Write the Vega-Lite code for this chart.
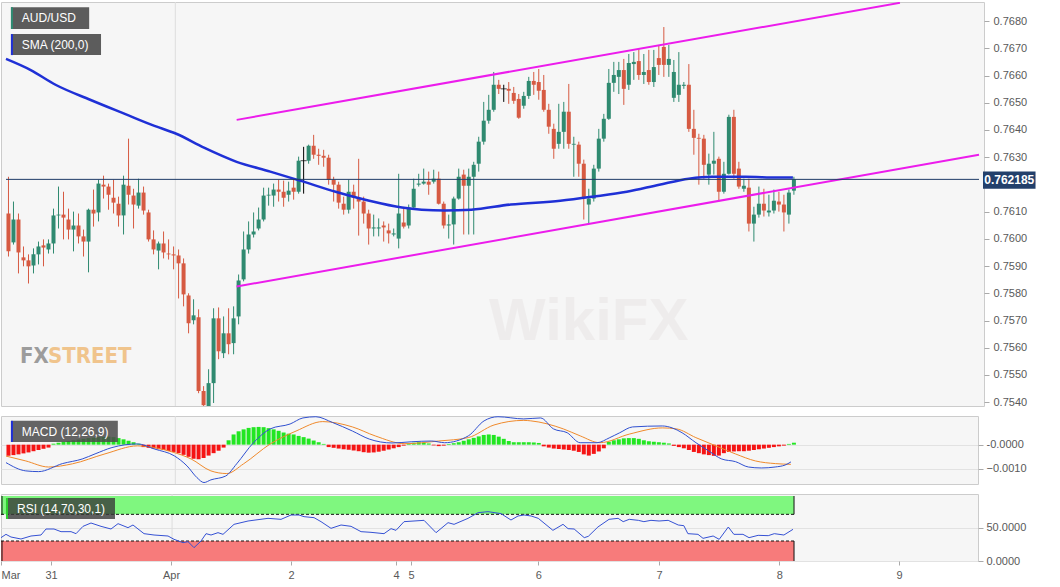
{
  "$schema": "https://vega.github.io/schema/vega-lite/v6.json",
  "padding": {"left": 0, "top": 1, "right": 0, "bottom": 0},
  "background": "#ffffff",
  "bounds": "flush",
  "spacing": 10,
  "config": {
    "view": {"fill": "#f6f6f6", "stroke": "#cccccc"},
    "axis": {"labelFont": "Liberation Sans", "labelFontSize": 11, "labelColor": "#595959", "tickColor": "#aaaaaa", "tickSize": 5, "domain": false, "gridColor": "#e2e2e2", "title": null, "labelPadding": 3, "labelOverlap": false}
  },
  "datasets": {
    "candles": [
      {"i":0,"o":0.76093,"h":0.76228,"l":0.75935,"c":0.75954,"m":-0.00046},
      {"i":1,"o":0.75987,"h":0.76137,"l":0.75979,"c":0.76071,"m":-0.00043},
      {"i":2,"o":0.76071,"h":0.76093,"l":0.75873,"c":0.7595,"m":-0.0004},
      {"i":3,"o":0.75932,"h":0.75972,"l":0.75899,"c":0.75921,"m":-0.00036},
      {"i":4,"o":0.75921,"h":0.75943,"l":0.75836,"c":0.75899,"m":-0.00032},
      {"i":5,"o":0.75902,"h":0.75965,"l":0.75873,"c":0.75943,"m":-0.00027},
      {"i":6,"o":0.75943,"h":0.7599,"l":0.75906,"c":0.75972,"m":-0.00022},
      {"i":7,"o":0.75976,"h":0.75998,"l":0.75899,"c":0.75968,"m":-0.00017},
      {"i":8,"o":0.75961,"h":0.75998,"l":0.75946,"c":0.75983,"m":-0.00012},
      {"i":9,"o":0.75983,"h":0.76111,"l":0.75946,"c":0.76086,"m":0.00004},
      {"i":10,"o":0.76086,"h":0.76192,"l":0.76038,"c":0.76089,"m":0.00008},
      {"i":11,"o":0.76089,"h":0.76173,"l":0.75998,"c":0.76078,"m":0.00012},
      {"i":12,"o":0.76071,"h":0.76111,"l":0.75998,"c":0.76034,"m":0.00015},
      {"i":13,"o":0.76034,"h":0.761,"l":0.75954,"c":0.76049,"m":0.00018},
      {"i":14,"o":0.76049,"h":0.76093,"l":0.75983,"c":0.76009,"m":0.00021},
      {"i":15,"o":0.76009,"h":0.76034,"l":0.75935,"c":0.7599,"m":0.00024},
      {"i":16,"o":0.7599,"h":0.76111,"l":0.75877,"c":0.76107,"m":0.00027},
      {"i":17,"o":0.76107,"h":0.76181,"l":0.76045,"c":0.76093,"m":0.00029},
      {"i":18,"o":0.76097,"h":0.76217,"l":0.76064,"c":0.76203,"m":0.00031},
      {"i":19,"o":0.76199,"h":0.76232,"l":0.76148,"c":0.76192,"m":0.00032},
      {"i":20,"o":0.76192,"h":0.76203,"l":0.76107,"c":0.76162,"m":0.00033},
      {"i":21,"o":0.76151,"h":0.76217,"l":0.76093,"c":0.76133,"m":0.00031},
      {"i":22,"o":0.76129,"h":0.76155,"l":0.76045,"c":0.76086,"m":0.00027},
      {"i":23,"o":0.76086,"h":0.76232,"l":0.76016,"c":0.76199,"m":0.00022},
      {"i":24,"o":0.76195,"h":0.76368,"l":0.76126,"c":0.76162,"m":0.00016},
      {"i":25,"o":0.76159,"h":0.76184,"l":0.76038,"c":0.76126,"m":0.0001},
      {"i":26,"o":0.76122,"h":0.76221,"l":0.76111,"c":0.7617,"m":0.00004},
      {"i":27,"o":0.7617,"h":0.76192,"l":0.76089,"c":0.76104,"m":-0.0001},
      {"i":28,"o":0.76097,"h":0.76107,"l":0.7599,"c":0.75998,"m":-0.00013},
      {"i":29,"o":0.75998,"h":0.76031,"l":0.75943,"c":0.75961,"m":-0.00016},
      {"i":30,"o":0.75957,"h":0.7599,"l":0.75888,"c":0.75983,"m":-0.00019},
      {"i":31,"o":0.75983,"h":0.76027,"l":0.75928,"c":0.7595,"m":-0.00022},
      {"i":32,"o":0.75946,"h":0.75998,"l":0.75924,"c":0.75943,"m":-0.00026},
      {"i":33,"o":0.75943,"h":0.75972,"l":0.75888,"c":0.75939,"m":-0.0003},
      {"i":34,"o":0.75939,"h":0.75961,"l":0.75781,"c":0.7591,"m":-0.00035},
      {"i":35,"o":0.7591,"h":0.75928,"l":0.75752,"c":0.75796,"m":-0.00042},
      {"i":36,"o":0.75792,"h":0.758,"l":0.75653,"c":0.7569,"m":-0.0005},
      {"i":37,"o":0.75701,"h":0.75778,"l":0.75686,"c":0.75719,"m":-0.00058},
      {"i":38,"o":0.75712,"h":0.75741,"l":0.75433,"c":0.75441,"m":-0.0006},
      {"i":39,"o":0.75441,"h":0.75459,"l":0.75367,"c":0.75389,"m":-0.00055},
      {"i":40,"o":0.75386,"h":0.75521,"l":0.75367,"c":0.7547,"m":-0.00045},
      {"i":41,"o":0.7547,"h":0.75745,"l":0.75397,"c":0.75708,"m":-0.00035},
      {"i":42,"o":0.75708,"h":0.75748,"l":0.75558,"c":0.75587,"m":-0.00025},
      {"i":43,"o":0.7558,"h":0.75715,"l":0.75562,"c":0.75653,"m":-0.00012},
      {"i":44,"o":0.75653,"h":0.75745,"l":0.75576,"c":0.75613,"m":0.00018},
      {"i":45,"o":0.75617,"h":0.75752,"l":0.75576,"c":0.75708,"m":0.00042},
      {"i":46,"o":0.75715,"h":0.75869,"l":0.75686,"c":0.75847,"m":0.00055},
      {"i":47,"o":0.75851,"h":0.76027,"l":0.75844,"c":0.75961,"m":0.00063},
      {"i":48,"o":0.75961,"h":0.76064,"l":0.75946,"c":0.76016,"m":0.00069},
      {"i":49,"o":0.76016,"h":0.76097,"l":0.76005,"c":0.76027,"m":0.00072},
      {"i":50,"o":0.76038,"h":0.76115,"l":0.76031,"c":0.76071,"m":0.00073},
      {"i":51,"o":0.76071,"h":0.76188,"l":0.76064,"c":0.76159,"m":0.00072},
      {"i":52,"o":0.76159,"h":0.76188,"l":0.76122,"c":0.76162,"m":0.00068},
      {"i":53,"o":0.76159,"h":0.76203,"l":0.76118,"c":0.76181,"m":0.00063},
      {"i":54,"o":0.76181,"h":0.76217,"l":0.76137,"c":0.76173,"m":0.00057},
      {"i":55,"o":0.76173,"h":0.76214,"l":0.76118,"c":0.76151,"m":0.0005},
      {"i":56,"o":0.76162,"h":0.7621,"l":0.76137,"c":0.76177,"m":0.00045},
      {"i":57,"o":0.76188,"h":0.76221,"l":0.76144,"c":0.76173,"m":0.00042},
      {"i":58,"o":0.76173,"h":0.76302,"l":0.76166,"c":0.76287,"m":0.00036},
      {"i":59,"o":0.76287,"h":0.76338,"l":0.76166,"c":0.76287,"m":0.00031},
      {"i":60,"o":0.76287,"h":0.76346,"l":0.76276,"c":0.76342,"m":0.00025},
      {"i":61,"o":0.76342,"h":0.76382,"l":0.76294,"c":0.76309,"m":0.00017},
      {"i":62,"o":0.76309,"h":0.76331,"l":0.76272,"c":0.76305,"m":0.0001},
      {"i":63,"o":0.76305,"h":0.76327,"l":0.76265,"c":0.76298,"m":0.00003},
      {"i":64,"o":0.76298,"h":0.76309,"l":0.76199,"c":0.76217,"m":-0.0001},
      {"i":65,"o":0.76217,"h":0.76228,"l":0.76137,"c":0.76199,"m":-0.00013},
      {"i":66,"o":0.76199,"h":0.7621,"l":0.76111,"c":0.76133,"m":-0.00016},
      {"i":67,"o":0.76129,"h":0.76155,"l":0.76089,"c":0.76107,"m":-0.00019},
      {"i":68,"o":0.76107,"h":0.76217,"l":0.76093,"c":0.76173,"m":-0.00021},
      {"i":69,"o":0.76173,"h":0.76199,"l":0.76111,"c":0.76151,"m":-0.00024},
      {"i":70,"o":0.76151,"h":0.76294,"l":0.76012,"c":0.76137,"m":-0.00027},
      {"i":71,"o":0.76137,"h":0.76155,"l":0.76056,"c":0.76093,"m":-0.00031},
      {"i":72,"o":0.76093,"h":0.76107,"l":0.75979,"c":0.76038,"m":-0.00033},
      {"i":73,"o":0.76038,"h":0.76089,"l":0.76009,"c":0.76042,"m":-0.00032},
      {"i":74,"o":0.76038,"h":0.76075,"l":0.76009,"c":0.76042,"m":-0.00029},
      {"i":75,"o":0.76049,"h":0.76064,"l":0.7599,"c":0.76042,"m":-0.00025},
      {"i":76,"o":0.76031,"h":0.76056,"l":0.75983,"c":0.7602,"m":-0.0002},
      {"i":77,"o":0.76016,"h":0.76038,"l":0.76009,"c":0.7602,"m":-0.00015},
      {"i":78,"o":0.76001,"h":0.76239,"l":0.75965,"c":0.76093,"m":-0.0001},
      {"i":79,"o":0.7606,"h":0.76111,"l":0.76038,"c":0.76045,"m":-0.00004},
      {"i":80,"o":0.76049,"h":0.76126,"l":0.76038,"c":0.76115,"m":0.00005},
      {"i":81,"o":0.76115,"h":0.76221,"l":0.76107,"c":0.76184,"m":0.00008},
      {"i":82,"o":0.76199,"h":0.76239,"l":0.76192,"c":0.76203,"m":0.0001},
      {"i":83,"o":0.76203,"h":0.76258,"l":0.76199,"c":0.7621,"m":0.00008},
      {"i":84,"o":0.7621,"h":0.76247,"l":0.76162,"c":0.76199,"m":0.00005},
      {"i":85,"o":0.7621,"h":0.76254,"l":0.76203,"c":0.76221,"m":-0.00003},
      {"i":86,"o":0.76221,"h":0.76247,"l":0.76126,"c":0.76129,"m":-0.00006},
      {"i":87,"o":0.76129,"h":0.76137,"l":0.76038,"c":0.76049,"m":-0.00004},
      {"i":88,"o":0.76049,"h":0.76089,"l":0.76001,"c":0.76053,"m":0.00003},
      {"i":89,"o":0.76053,"h":0.76155,"l":0.75979,"c":0.76148,"m":0.00006},
      {"i":90,"o":0.76148,"h":0.76258,"l":0.76144,"c":0.76228,"m":0.0001},
      {"i":91,"o":0.76236,"h":0.76254,"l":0.76016,"c":0.76195,"m":0.00016},
      {"i":92,"o":0.76195,"h":0.76258,"l":0.76016,"c":0.76228,"m":0.00022},
      {"i":93,"o":0.76228,"h":0.76283,"l":0.76016,"c":0.76272,"m":0.00028},
      {"i":94,"o":0.76276,"h":0.76375,"l":0.76247,"c":0.76357,"m":0.00034},
      {"i":95,"o":0.76357,"h":0.76503,"l":0.76346,"c":0.76434,"m":0.0004},
      {"i":96,"o":0.76434,"h":0.76529,"l":0.76423,"c":0.76474,"m":0.00042},
      {"i":97,"o":0.76474,"h":0.76613,"l":0.76467,"c":0.76566,"m":0.0004},
      {"i":98,"o":0.76566,"h":0.76584,"l":0.76532,"c":0.76551,"m":0.00033},
      {"i":99,"o":0.76551,"h":0.76566,"l":0.76503,"c":0.76551,"m":0.00024},
      {"i":100,"o":0.76551,"h":0.76576,"l":0.76496,"c":0.76544,"m":0.00015},
      {"i":101,"o":0.76536,"h":0.76558,"l":0.76496,"c":0.76507,"m":0.0001},
      {"i":102,"o":0.76514,"h":0.76532,"l":0.76441,"c":0.76445,"m":0.0001},
      {"i":103,"o":0.76489,"h":0.7654,"l":0.76478,"c":0.76525,"m":0.0001},
      {"i":104,"o":0.76525,"h":0.76595,"l":0.76514,"c":0.7658,"m":0.0001},
      {"i":105,"o":0.7658,"h":0.76613,"l":0.76529,"c":0.76566,"m":0.00009},
      {"i":106,"o":0.76576,"h":0.76624,"l":0.76511,"c":0.76544,"m":0.00007},
      {"i":107,"o":0.76547,"h":0.76602,"l":0.76467,"c":0.76474,"m":-0.00007},
      {"i":108,"o":0.76474,"h":0.76496,"l":0.76386,"c":0.76412,"m":-0.00012},
      {"i":109,"o":0.76404,"h":0.76423,"l":0.76294,"c":0.76331,"m":-0.00016},
      {"i":110,"o":0.76349,"h":0.76496,"l":0.76331,"c":0.76393,"m":-0.00018},
      {"i":111,"o":0.76393,"h":0.76503,"l":0.76331,"c":0.76467,"m":-0.0002},
      {"i":112,"o":0.76467,"h":0.76569,"l":0.76331,"c":0.76349,"m":-0.00022},
      {"i":113,"o":0.76346,"h":0.76375,"l":0.76228,"c":0.76349,"m":-0.00025},
      {"i":114,"o":0.76346,"h":0.76357,"l":0.76228,"c":0.76276,"m":-0.0003},
      {"i":115,"o":0.76276,"h":0.76291,"l":0.76071,"c":0.76148,"m":-0.0004},
      {"i":116,"o":0.76126,"h":0.76184,"l":0.76056,"c":0.76148,"m":-0.00045},
      {"i":117,"o":0.76148,"h":0.76272,"l":0.76137,"c":0.76258,"m":-0.00038},
      {"i":118,"o":0.76258,"h":0.76404,"l":0.76247,"c":0.76368,"m":-0.00028},
      {"i":119,"o":0.76368,"h":0.76459,"l":0.76357,"c":0.76441,"m":-0.00015},
      {"i":120,"o":0.76441,"h":0.76624,"l":0.76437,"c":0.76573,"m":0.00012},
      {"i":121,"o":0.76573,"h":0.7665,"l":0.7654,"c":0.76602,"m":0.00018},
      {"i":122,"o":0.76595,"h":0.7665,"l":0.76532,"c":0.7662,"m":0.00022},
      {"i":123,"o":0.7662,"h":0.76661,"l":0.76492,"c":0.76551,"m":0.00026},
      {"i":124,"o":0.76566,"h":0.76679,"l":0.76547,"c":0.76646,"m":0.00027},
      {"i":125,"o":0.76642,"h":0.76686,"l":0.76584,"c":0.7665,"m":0.00027},
      {"i":126,"o":0.76653,"h":0.76697,"l":0.76584,"c":0.76602,"m":0.00024},
      {"i":127,"o":0.76602,"h":0.76679,"l":0.76569,"c":0.76613,"m":0.00018},
      {"i":128,"o":0.7662,"h":0.76694,"l":0.76566,"c":0.76576,"m":0.00014},
      {"i":129,"o":0.76576,"h":0.76694,"l":0.76558,"c":0.76631,"m":0.00012},
      {"i":130,"o":0.76664,"h":0.76712,"l":0.76602,"c":0.76639,"m":0.0001},
      {"i":131,"o":0.76705,"h":0.76778,"l":0.76595,"c":0.76639,"m":0.00008},
      {"i":132,"o":0.76639,"h":0.76712,"l":0.76595,"c":0.76661,"m":0.00005},
      {"i":133,"o":0.76518,"h":0.76657,"l":0.76503,"c":0.76613,"m":-0.00005},
      {"i":134,"o":0.76529,"h":0.76686,"l":0.76503,"c":0.76566,"m":-0.0001},
      {"i":135,"o":0.76562,"h":0.76576,"l":0.76551,"c":0.76566,"m":-0.00015},
      {"i":136,"o":0.76566,"h":0.76642,"l":0.76393,"c":0.76404,"m":-0.00022},
      {"i":137,"o":0.76404,"h":0.76474,"l":0.76309,"c":0.76371,"m":-0.0003},
      {"i":138,"o":0.76371,"h":0.76386,"l":0.76199,"c":0.76368,"m":-0.00035},
      {"i":139,"o":0.76368,"h":0.76382,"l":0.76221,"c":0.76272,"m":-0.0004},
      {"i":140,"o":0.76236,"h":0.76313,"l":0.76199,"c":0.76276,"m":-0.00043},
      {"i":141,"o":0.76276,"h":0.76393,"l":0.76236,"c":0.76287,"m":-0.00046},
      {"i":142,"o":0.76294,"h":0.76302,"l":0.76137,"c":0.76173,"m":-0.00045},
      {"i":143,"o":0.76173,"h":0.76283,"l":0.76166,"c":0.76239,"m":-0.00035},
      {"i":144,"o":0.76239,"h":0.76456,"l":0.76236,"c":0.76448,"m":-0.0003},
      {"i":145,"o":0.76448,"h":0.76474,"l":0.76221,"c":0.76239,"m":-0.00028},
      {"i":146,"o":0.76258,"h":0.76283,"l":0.76184,"c":0.76192,"m":-0.00027},
      {"i":147,"o":0.76184,"h":0.76221,"l":0.76173,"c":0.76195,"m":-0.00027},
      {"i":148,"o":0.76188,"h":0.76221,"l":0.76027,"c":0.76056,"m":-0.00025},
      {"i":149,"o":0.76056,"h":0.76118,"l":0.7599,"c":0.76089,"m":-0.00022},
      {"i":150,"o":0.76089,"h":0.76192,"l":0.76078,"c":0.76129,"m":-0.00019},
      {"i":151,"o":0.76129,"h":0.76184,"l":0.76082,"c":0.76104,"m":-0.00016},
      {"i":152,"o":0.76097,"h":0.76162,"l":0.76082,"c":0.76104,"m":-0.00013},
      {"i":153,"o":0.76104,"h":0.76181,"l":0.76093,"c":0.7614,"m":-0.0001},
      {"i":154,"o":0.76137,"h":0.76173,"l":0.761,"c":0.76126,"m":-0.00007},
      {"i":155,"o":0.76126,"h":0.76162,"l":0.76027,"c":0.76097,"m":-0.00004},
      {"i":156,"o":0.76089,"h":0.76181,"l":0.76056,"c":0.7617,"m":0.00003},
      {"i":157,"o":0.76177,"h":0.76228,"l":0.76162,"c":0.762185,"m":0.00008}
    ],
    "sma": [
      {"i":-0.495,"p":0.76661},{"i":4.45,"p":0.7662},{"i":9.4,"p":0.76566},{"i":16.32,"p":0.76511},
      {"i":23.25,"p":0.76459},{"i":29.18,"p":0.76415},{"i":33.54,"p":0.76386},{"i":39.08,"p":0.76335},
      {"i":45.61,"p":0.76283},{"i":52.33,"p":0.76247},{"i":58.27,"p":0.76214},{"i":65.39,"p":0.76173},
      {"i":72.12,"p":0.7614},{"i":78.65,"p":0.76115},{"i":82.6,"p":0.76107},{"i":87.16,"p":0.76104},
      {"i":92.5,"p":0.76107},{"i":100.4,"p":0.76126},{"i":110.3,"p":0.7614},{"i":116.8,"p":0.76155},
      {"i":123.6,"p":0.76173},{"i":130.1,"p":0.76199},{"i":136,"p":0.76221},{"i":140.6,"p":0.76228},
      {"i":147.3,"p":0.76228},{"i":153.8,"p":0.76225},{"i":156.8,"p":0.76225}
    ],
    "trend": [
      {"k":"upper","i":45.61,"p":0.76437},{"k":"upper","i":178.2,"p":0.76867},
      {"k":"lower","i":45.61,"p":0.75825},{"k":"lower","i":194,"p":0.76309}
    ],
    "ticks": [
      {"p":0.754},{"p":0.755},{"p":0.756},{"p":0.757},{"p":0.758},{"p":0.759},{"p":0.76},{"p":0.761},
      {"p":0.762},{"p":0.763},{"p":0.764},{"p":0.765},{"p":0.766},{"p":0.767},{"p":0.768}
    ],
    "macd": [
      {"i":-0.495,"v":-0.00074},{"i":3.46,"v":-0.00108},{"i":6.03,"v":-0.00111},
      {"i":10.78,"v":-0.00078},{"i":14.74,"v":-0.00059},{"i":17.31,"v":-0.00038},
      {"i":20.68,"v":-0.00012},{"i":25.82,"v":0.00003},{"i":29.18,"v":-0.00018},
      {"i":33.14,"v":-0.00046},{"i":35.71,"v":-0.00088},{"i":37.69,"v":-0.00136},
      {"i":39.08,"v":-0.00156},{"i":40.46,"v":-0.00145},{"i":43.43,"v":-0.00129},
      {"i":45.61,"v":-0.00079},{"i":48.97,"v":0.00008},{"i":52.33,"v":0.00065},
      {"i":56.29,"v":0.00085},{"i":58.86,"v":0.0011},{"i":61.44,"v":0.00115},
      {"i":64.8,"v":0.00091},{"i":68.76,"v":0.00056},{"i":72.12,"v":0.00023},
      {"i":76.67,"v":0.00007},{"i":80.63,"v":0.00012},{"i":84.59,"v":0.00015},
      {"i":87.16,"v":0.00008},{"i":91.91,"v":0.00036},{"i":95.07,"v":0.00098},
      {"i":97.84,"v":0.00115},{"i":103,"v":0.00106},{"i":106.35,"v":0.0011},
      {"i":108.93,"v":0.00065},{"i":111.69,"v":0.00049},{"i":114.27,"v":0.00008},
      {"i":117.63,"v":0.00008},{"i":120.2,"v":0.00029},{"i":122.18,"v":0.00049},
      {"i":124.75,"v":0.00073},{"i":130.69,"v":0.00077},{"i":132.67,"v":0.00069},
      {"i":134.65,"v":0.00049},{"i":137.42,"v":0.00008},{"i":139.99,"v":-0.00026},
      {"i":142.56,"v":-0.00059},{"i":145.33,"v":-0.0007},{"i":147.9,"v":-0.00092},
      {"i":150.48,"v":-0.00096},{"i":153.25,"v":-0.00092},{"i":155.23,"v":-0.00084},
      {"i":156.41,"v":-0.00071}
    ],
    "signal": [
      {"i":-0.495,"v":-0.00047},{"i":3.46,"v":-0.00067},{"i":8.01,"v":-0.00092},
      {"i":12.77,"v":-0.00079},{"i":19.29,"v":-0.00038},{"i":25.82,"v":-0.00005},
      {"i":32.55,"v":-0.00029},{"i":36.51,"v":-0.00059},{"i":40.46,"v":-0.00108},
      {"i":43.63,"v":-0.00119},{"i":46.99,"v":-0.00079},{"i":52.33,"v":0.00003},
      {"i":57.48,"v":0.00056},{"i":62.82,"v":0.00095},{"i":68.76,"v":0.00073},
      {"i":73.31,"v":0.00036},{"i":79.24,"v":0.00004},{"i":85.97,"v":0.00015},
      {"i":91.91,"v":0.00029},{"i":97.05,"v":0.00081},{"i":103,"v":0.001},
      {"i":104.4,"v":0.00098},{"i":110.9,"v":0.00065},{"i":114.3,"v":0.00036},
      {"i":118.2,"v":0.00008},{"i":124.2,"v":0.00044},{"i":130.7,"v":0.00069},
      {"i":133.5,"v":0.00065},{"i":137.4,"v":0.00029},{"i":141.4,"v":-0.00005},
      {"i":145.3,"v":-0.00038},{"i":149.3,"v":-0.00067},{"i":153.3,"v":-0.00078},
      {"i":156.4,"v":-0.00081}
    ],
    "rsi": [
      {"i":-0.495,"v":35},{"i":0.49,"v":40},{"i":1.48,"v":36},{"i":3.46,"v":33},{"i":5.44,"v":37.5},{"i":7.42,"v":39},
      {"i":8.41,"v":48},{"i":9.99,"v":48},{"i":11.38,"v":44},{"i":13.36,"v":44},{"i":14.35,"v":41},{"i":15.73,"v":52},
      {"i":17.31,"v":57},{"i":19.29,"v":52},{"i":21.27,"v":48},{"i":22.66,"v":56},{"i":24.63,"v":50},{"i":25.62,"v":54},
      {"i":27.8,"v":41},{"i":29.78,"v":39},{"i":32.55,"v":37.5},{"i":33.74,"v":32.5},{"i":35.52,"v":27.5},{"i":36.51,"v":29},
      {"i":37.69,"v":20},{"i":39.08,"v":30},{"i":40.07,"v":41},{"i":41.06,"v":39},{"i":42.44,"v":42.5},{"i":43.43,"v":40},
      {"i":45.61,"v":55},{"i":48.38,"v":60},{"i":52.33,"v":64},{"i":54.91,"v":62.5},{"i":56.89,"v":69},{"i":58.47,"v":69},
      {"i":59.46,"v":66.5},{"i":61.44,"v":65},{"i":62.82,"v":59},{"i":64.8,"v":49},{"i":66.78,"v":54},{"i":68.76,"v":52},
      {"i":70.74,"v":44},{"i":72.71,"v":43},{"i":75.28,"v":41},{"i":76.67,"v":48.5},{"i":77.66,"v":46},{"i":79.24,"v":59},
      {"i":83.2,"v":61},{"i":85.58,"v":42.5},{"i":87.95,"v":57.5},{"i":89.14,"v":55},{"i":91.91,"v":64},{"i":93.89,"v":72.5},
      {"i":95.87,"v":74},{"i":98.44,"v":71},{"i":100.4,"v":61.5},{"i":101.8,"v":67.5},{"i":103,"v":69},{"i":104.4,"v":67.5},
      {"i":105.8,"v":64},{"i":108.7,"v":46},{"i":110.7,"v":55},{"i":111.7,"v":48.5},{"i":112.9,"v":48},{"i":114.9,"v":35},
      {"i":115.7,"v":37},{"i":117.6,"v":51},{"i":119.8,"v":62.5},{"i":121.6,"v":64},{"i":122.6,"v":59},{"i":123.8,"v":62.5},
      {"i":125.6,"v":61},{"i":126.7,"v":59},{"i":128.1,"v":61},{"i":129.7,"v":60},{"i":131.5,"v":61},{"i":133.5,"v":54},
      {"i":134.6,"v":53},{"i":135.4,"v":41},{"i":137.4,"v":40},{"i":138.4,"v":34},{"i":140.4,"v":37.5},{"i":141.6,"v":32.5},
      {"i":143.4,"v":51},{"i":144.5,"v":40},{"i":146.3,"v":40},{"i":147.5,"v":35},{"i":149.3,"v":38.5},{"i":151.3,"v":38},
      {"i":152.5,"v":41},{"i":154.4,"v":39},{"i":156.2,"v":47.5}
    ]
  },
  "vconcat": [
    {
      "width": 983,
      "height": 404,
      "encoding": {"x": {"field": "i", "type": "quantitative", "scale": {"domain": [-0.495, 194], "nice": false, "zero": false}, "axis": null}},
      "layer": [
        {
          "data": {"name": "ticks"},
          "mark": {"type": "rule", "color": "#e2e2e2", "strokeWidth": 1, "clip": true},
          "encoding": {
            "x": {"datum": -0.495, "type": "quantitative"},
            "x2": {"datum": 194},
            "y": {
              "field": "p", "type": "quantitative",
              "scale": {"domain": [0.75386, 0.7687], "nice": false, "zero": false},
              "axis": {
                "orient": "right", "grid": false, "labelPadding": 4, "labelOverlap": false, "tickCount": 15,
                "values": [0.754, 0.755, 0.756, 0.757, 0.758, 0.759, 0.76, 0.761, 0.762, 0.763, 0.764, 0.765, 0.766, 0.767, 0.768],
                "labelExpr": "abs(datum.value - 0.762) < 0.00001 ? '' : format(datum.value, '.4f')"
              }
            }
          }
        },
        {
          "data": {"values": [{"i": 33.35}]},
          "mark": {"type": "rule", "color": "#dddddd", "strokeWidth": 1},
          "encoding": {}
        },
        {
          "data": {"values": [{"i": 116, "p": 0.75694, "t": "WikiFX"}]},
          "mark": {"type": "text", "font": "Liberation Sans", "fontWeight": "bold", "fontSize": 60, "color": "#e2dcdc", "opacity": 0.35, "align": "center", "baseline": "middle"},
          "encoding": {"y": {"field": "p", "type": "quantitative"}, "text": {"field": "t"}}
        },
        {
          "data": {"values": [{"i": 2.3, "p": 0.75544, "t": "FX"}]},
          "mark": {"type": "text", "font": "DejaVu Sans Condensed", "fontWeight": "bold", "fontSize": 22, "align": "left", "baseline": "alphabetic", "color": "#9c9c9c"},
          "encoding": {"y": {"field": "p", "type": "quantitative"}, "text": {"field": "t"}}
        },
        {
          "data": {"values": [{"i": 7.9, "p": 0.75544, "t": "STREET"}]},
          "mark": {"type": "text", "font": "DejaVu Sans Condensed", "fontWeight": "bold", "fontSize": 22, "align": "left", "baseline": "alphabetic", "color": "#f0c48c"},
          "encoding": {"y": {"field": "p", "type": "quantitative"}, "text": {"field": "t"}}
        },
        {
          "data": {"name": "candles"},
          "mark": {"type": "rule", "strokeWidth": 1, "clip": true},
          "encoding": {
            "y": {"field": "l", "type": "quantitative"},
            "y2": {"field": "h"},
            "color": {"condition": [{"test": "datum.o == datum.c", "value": "#000000"}, {"test": "datum.c > datum.o", "value": "#2f8a70"}], "value": "#d65a42"}
          }
        },
        {
          "data": {"name": "candles"},
          "mark": {"type": "bar", "size": 4, "clip": true},
          "encoding": {
            "y": {"field": "o", "type": "quantitative"},
            "y2": {"field": "c"},
            "color": {"condition": {"test": "datum.c > datum.o", "value": "#2f8a70"}, "value": "#d65a42"}
          }
        },
        {
          "data": {"name": "candles"},
          "transform": [{"filter": "datum.o == datum.c"}],
          "mark": {"type": "tick", "orient": "horizontal", "size": 6, "thickness": 1, "color": "#000000", "clip": true},
          "encoding": {"y": {"field": "c", "type": "quantitative"}}
        },
        {
          "data": {"name": "sma"},
          "mark": {"type": "line", "color": "#1f30d6", "strokeWidth": 2.5, "interpolate": "monotone", "clip": true},
          "encoding": {"y": {"field": "p", "type": "quantitative"}}
        },
        {
          "data": {"name": "trend"},
          "mark": {"type": "line", "color": "#ec1cec", "strokeWidth": 2, "clip": true},
          "encoding": {"y": {"field": "p", "type": "quantitative"}, "detail": {"field": "k"}}
        },
        {
          "data": {"values": [{"i": -0.495, "i2": 194, "p": 0.762185}]},
          "mark": {"type": "rule", "color": "#1d3a66", "strokeWidth": 1, "clip": true},
          "encoding": {"x2": {"field": "i2"}, "y": {"field": "p", "type": "quantitative"}}
        },
        {
          "data": {"values": [{"i": 194.8, "i2": 205.3, "p": 0.76247, "p2": 0.76184}]},
          "mark": {"type": "rect", "color": "#23406b"},
          "encoding": {"x2": {"field": "i2"}, "y": {"field": "p", "type": "quantitative"}, "y2": {"field": "p2"}}
        },
        {
          "data": {"values": [{"i": 200.05, "p": 0.762155, "t": "0.762185"}]},
          "mark": {"type": "text", "font": "Liberation Sans", "fontWeight": "bold", "fontSize": 12, "color": "#ffffff", "align": "center", "baseline": "middle"},
          "encoding": {"y": {"field": "p", "type": "quantitative"}, "text": {"field": "t"}}
        },
        {
          "data": {"values": [
            {"i": 0.49, "i2": 16.13, "p": 0.76851, "p2": 0.76771},
            {"i": 0.49, "i2": 18.5, "p": 0.76752, "p2": 0.76675}
          ]},
          "mark": {"type": "rect", "color": "#5c5c5c"},
          "encoding": {"x2": {"field": "i2"}, "y": {"field": "p", "type": "quantitative"}, "y2": {"field": "p2"}}
        },
        {
          "data": {"values": [{"i": 0.49, "i2": 0.89, "p": 0.76851, "p2": 0.76771}]},
          "mark": {"type": "rect", "color": "#2e8b72"},
          "encoding": {"x2": {"field": "i2"}, "y": {"field": "p", "type": "quantitative"}, "y2": {"field": "p2"}}
        },
        {
          "data": {"values": [{"i": 0.49, "i2": 0.89, "p": 0.76752, "p2": 0.76675}]},
          "mark": {"type": "rect", "color": "#1f30d6"},
          "encoding": {"x2": {"field": "i2"}, "y": {"field": "p", "type": "quantitative"}, "y2": {"field": "p2"}}
        },
        {
          "data": {"values": [{"i": 2.67, "p": 0.76811, "t": "AUD/USD"}, {"i": 2.67, "p": 0.76713, "t": "SMA (200,0)"}]},
          "mark": {"type": "text", "font": "Liberation Sans", "fontSize": 12, "color": "#ffffff", "align": "left", "baseline": "middle"},
          "encoding": {"y": {"field": "p", "type": "quantitative"}, "text": {"field": "t"}}
        }
      ]
    },
    {
      "width": 977,
      "height": 68,
      "encoding": {"x": {"field": "i", "type": "quantitative", "scale": {"domain": [-0.495, 192.8], "nice": false, "zero": false}, "axis": null}},
      "layer": [
        {
          "data": {"values": [{"i": 33.35}]},
          "mark": {"type": "rule", "color": "#dddddd", "strokeWidth": 1},
          "encoding": {}
        },
        {
          "data": {"name": "candles"},
          "mark": {"type": "bar", "size": 4, "clip": true},
          "encoding": {
            "y": {
              "field": "m", "type": "quantitative",
              "scale": {"domain": [-0.00162, 0.00118], "nice": false, "zero": false},
              "axis": {"orient": "right", "grid": true, "values": [0, -0.001], "labelExpr": "datum.value == 0 ? '-0.0000' : format(datum.value, '.4f')"}
            },
            "y2": {"datum": 0},
            "color": {"condition": {"test": "datum.m > 0", "value": "#22e622"}, "value": "#f51414"}
          }
        },
        {
          "data": {"name": "signal"},
          "mark": {"type": "line", "strokeWidth": 1, "interpolate": "monotone", "color": "#f08a2c", "clip": true},
          "encoding": {"y": {"field": "v", "type": "quantitative"}}
        },
        {
          "data": {"name": "macd"},
          "mark": {"type": "line", "strokeWidth": 1, "interpolate": "monotone", "color": "#3050d0", "clip": true},
          "encoding": {"y": {"field": "v", "type": "quantitative"}}
        },
        {
          "data": {"values": [{"i": 0.49, "i2": 21.86, "v": 0.00098, "v2": 0.00011}]},
          "mark": {"type": "rect", "color": "#4a4a4a", "opacity": 0.85},
          "encoding": {"x2": {"field": "i2"}, "y": {"field": "v", "type": "quantitative"}, "y2": {"field": "v2"}}
        },
        {
          "data": {"values": [{"i": 0.49, "i2": 0.89, "v": 0.00098, "v2": 0.00011}]},
          "mark": {"type": "rect", "color": "#1f30d6"},
          "encoding": {"x2": {"field": "i2"}, "y": {"field": "v", "type": "quantitative"}, "y2": {"field": "v2"}}
        },
        {
          "data": {"values": [{"i": 2.67, "v": 0.00053, "t": "MACD (12,26,9)"}]},
          "mark": {"type": "text", "font": "Liberation Sans", "fontSize": 12, "color": "#ffffff", "align": "left", "baseline": "middle"},
          "encoding": {"y": {"field": "v", "type": "quantitative"}, "text": {"field": "t"}}
        }
      ]
    },
    {
      "width": 977,
      "height": 67,
      "encoding": {
        "x": {
          "field": "i", "type": "quantitative",
          "scale": {"domain": [-0.495, 192.8], "nice": false, "zero": false},
          "axis": {
            "orient": "bottom", "grid": false, "tickSize": 4, "labelPadding": 4, "labelFlush": true, "labelOverlap": false,
            "values": [-0.495, 9.4, 33.14, 56.89, 77.66, 80.63, 105.8, 129.7, 153.5, 177.2],
            "labelExpr": "datum.value < 0 ? 'Mar' : datum.value < 10 ? '31' : datum.value < 34 ? 'Apr' : datum.value < 57 ? '2' : datum.value < 78 ? '4' : datum.value < 81 ? '5' : datum.value < 106 ? '6' : datum.value < 130 ? '7' : datum.value < 154 ? '8' : '9'"
          }
        }
      },
      "layer": [
        {
          "data": {"values": [{"i": 33.35}]},
          "mark": {"type": "rule", "color": "#dddddd", "strokeWidth": 1},
          "encoding": {}
        },
        {
          "data": {"values": [{"i": -0.495, "i2": 156.4, "v": 70, "v2": 97.5}]},
          "mark": {"type": "rect", "color": "#7ff77f", "opacity": 1},
          "encoding": {
            "x2": {"field": "i2"},
            "y": {
              "field": "v", "type": "quantitative",
              "scale": {"domain": [0, 100.5], "nice": false, "zero": false},
              "axis": {"orient": "right", "grid": true, "values": [0, 50], "format": ".4f"}
            },
            "y2": {"field": "v2"}
          }
        },
        {
          "data": {"values": [{"i": -0.495, "i2": 156.4, "v": 0, "v2": 30}]},
          "mark": {"type": "rect", "color": "#f77b7b", "opacity": 1},
          "encoding": {"x2": {"field": "i2"}, "y": {"field": "v", "type": "quantitative"}, "y2": {"field": "v2"}}
        },
        {
          "data": {"values": [{"i": -0.495, "i2": 156.4, "v": 70}, {"i": -0.495, "i2": 156.4, "v": 30}]},
          "mark": {"type": "rule", "color": "#111111", "strokeWidth": 1, "strokeDash": [3, 2], "clip": true},
          "encoding": {"x2": {"field": "i2"}, "y": {"field": "v", "type": "quantitative"}}
        },
        {
          "data": {"values": [
            {"i": 156.4, "v": 70, "v2": 97.5}, {"i": 156.4, "v": 0, "v2": 30},
            {"i": -0.3, "v": 70, "v2": 97.5}, {"i": -0.3, "v": 0, "v2": 30}
          ]},
          "mark": {"type": "rule", "color": "#111111", "strokeWidth": 1, "clip": true},
          "encoding": {"y": {"field": "v", "type": "quantitative"}, "y2": {"field": "v2"}}
        },
        {
          "data": {"name": "rsi"},
          "mark": {"type": "line", "color": "#3551d4", "strokeWidth": 1, "clip": true},
          "encoding": {"y": {"field": "v", "type": "quantitative"}}
        },
        {
          "data": {"values": [{"i": 0.49, "i2": 22.06, "v": 94.5, "v2": 63}]},
          "mark": {"type": "rect", "color": "#3a3a3a", "opacity": 0.8},
          "encoding": {"x2": {"field": "i2"}, "y": {"field": "v", "type": "quantitative"}, "y2": {"field": "v2"}}
        },
        {
          "data": {"values": [{"i": 0.49, "i2": 0.89, "v": 94.5, "v2": 63}]},
          "mark": {"type": "rect", "color": "#2fd02f"},
          "encoding": {"x2": {"field": "i2"}, "y": {"field": "v", "type": "quantitative"}, "y2": {"field": "v2"}}
        },
        {
          "data": {"values": [{"i": 2.67, "v": 78, "t": "RSI (14,70,30,1)"}]},
          "mark": {"type": "text", "font": "Liberation Sans", "fontSize": 12, "color": "#ffffff", "align": "left", "baseline": "middle"},
          "encoding": {"y": {"field": "v", "type": "quantitative"}, "text": {"field": "t"}}
        }
      ]
    }
  ]
}
